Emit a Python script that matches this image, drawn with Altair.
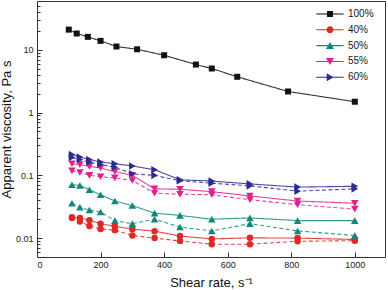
import altair as alt
import pandas as pd

# ---------------- data ----------------
conc_labels = ["100%", "40%", "50%", "55%", "60%"]
colors = ["#111111", "#e02828", "#12877f", "#e2228c", "#2d2b90"]

rate_100 = [100, 125, 160, 200, 250, 315, 400, 500, 550, 630, 790, 1000]
visc_100 = [21.0, 18.2, 16.1, 13.9, 11.3, 10.2, 8.2, 5.83, 5.04, 3.72, 2.17, 1.49]

rate = [110, 135, 165, 200, 245, 300, 370, 450, 550, 670, 820, 1000]
visc_40_a = [0.0215, 0.0210, 0.0193, 0.0170, 0.0154, 0.0139, 0.0129, 0.0108, 0.0097, 0.0101, 0.0100, 0.0095]
visc_40_b = [0.0210, 0.0184, 0.0156, 0.0140, 0.0134, 0.0110, 0.0100, 0.0090, 0.0080, 0.0080, 0.0089, 0.0091]
visc_50_a = [0.071, 0.069, 0.059, 0.049, 0.039, 0.033, 0.025, 0.023, 0.020, 0.021, 0.019, 0.019]
visc_50_b = [0.036, 0.031, 0.028, 0.026, 0.019, 0.017, 0.020, 0.015, 0.013, 0.017, 0.013, 0.011]
visc_55_a = [0.153, 0.148, 0.139, 0.131, 0.115, 0.100, 0.061, 0.060, 0.055, 0.047, 0.039, 0.036]
visc_55_b = [0.118, 0.111, 0.100, 0.095, 0.091, 0.083, 0.052, 0.050, 0.049, 0.041, 0.034, 0.029]
visc_60_a = [0.215, 0.196, 0.179, 0.163, 0.153, 0.141, 0.123, 0.085, 0.081, 0.073, 0.065, 0.067]
visc_60_b = [0.193, 0.179, 0.163, 0.149, 0.134, 0.106, 0.100, 0.082, 0.075, 0.068, 0.056, 0.061]

x_ticks = [0, 200, 400, 600, 800, 1000]
y_ticks = [0.005, 0.006, 0.007, 0.008, 0.009,
           0.01, 0.02, 0.03, 0.04, 0.05, 0.06, 0.07, 0.08, 0.09,
           0.1, 0.2, 0.3, 0.4, 0.5, 0.6, 0.7, 0.8, 0.9,
           1, 2, 3, 4, 5, 6, 7, 8, 9,
           10, 20, 30, 40, 50, 60]

series = [
    ("100%", "a", rate_100, visc_100),
    ("40%", "a", rate, visc_40_a), ("40%", "b", rate, visc_40_b),
    ("50%", "a", rate, visc_50_a), ("50%", "b", rate, visc_50_b),
    ("55%", "a", rate, visc_55_a), ("55%", "b", rate, visc_55_b),
    ("60%", "a", rate, visc_60_a), ("60%", "b", rate, visc_60_b),
]
rows = []
for c, rep, xs, vs in series:
    for xv, yv in zip(xs, vs):
        rows.append({"conc": c, "rep": rep, "sid": c + rep, "rate": xv, "visc": yv})
df = pd.DataFrame(rows)

# ---------------- styling ----------------
FONT = "Liberation Sans"
decades = "indexof([0.01,0.1,1,10], datum.value)"


def cscale():
    return alt.Scale(domain=conc_labels, range=colors)


x_enc = alt.X(
    "rate:Q",
    scale=alt.Scale(domain=[0, 1095], nice=False, zero=False),
    axis=alt.Axis(values=x_ticks, offset=-5, tickSize=5, domain=False, grid=False,
                  labelPadding=3, titlePadding=7, format="d"),
    title="Shear rate, s⁻¹",
)
y_enc = alt.Y(
    "visc:Q",
    scale=alt.Scale(type="log", domain=[0.005, 60], nice=False),
    axis=alt.Axis(values=y_ticks, offset=-5, tickSize=5, domain=False, grid=False,
                  labelPadding=4, titlePadding=2, format="~g",
                  labelExpr=decades + " >= 0 ? datum.label : ''",
                  tickDash={"condition": {"test": decades + " < 0", "value": [0, 2, 3, 20]},
                            "value": [5, 0]}),
    title="Apparent viscosity, Pa s",
)

lines = alt.Chart().mark_line(strokeWidth=1.1, opacity=0.85).encode(
    x=x_enc, y=y_enc,
    color=alt.Color("conc:N", scale=cscale(), legend=None),
    strokeDash=alt.StrokeDash("rep:N", scale=alt.Scale(domain=["a", "b"], range=[[1, 0], [4, 2.5]]),
                              legend=None),
    detail="sid:N",
)

marker_specs = [("100%", "square", 36), ("40%", "circle", 42), ("50%", "triangle-up", 58),
                ("55%", "triangle-down", 58), ("60%", "triangle-right", 58)]
point_layers = []
for c, shp, sz in marker_specs:
    point_layers.append(
        alt.Chart().transform_filter(alt.datum.conc == c).mark_point(
            shape=shp, size=sz, filled=True, opacity=1
        ).encode(x=x_enc, y=y_enc,
                 color=alt.Color("conc:N", scale=cscale(), legend=None))
    )

# legend symbols: a short line with the marker on it
line_part = "M-3.9,-0.15H3.9V0.15H-3.9Z"
legend_paths = [
    line_part + "M-0.85,-0.85H0.85V0.85H-0.85Z",
    line_part + "M-1,0A1,1,0,1,1,1,0A1,1,0,1,1,-1,0Z",
    line_part + "M0,-1.05L1.15,0.95H-1.15Z",
    line_part + "M0,1.05L-1.15,-0.95H1.15Z",
    line_part + "M1.05,0L-0.95,1.15V-1.15Z",
]
leg = alt.Legend(title=None, orient="none", legendX=288, legendY=8, padding=0,
                 labelFontSize=10, labelFont=FONT, labelColor="#1a1a1a",
                 symbolSize=49, labelOffset=13, rowPadding=5.8,
                 symbolOpacity=1, symbolStrokeWidth=0)
legend_layer = alt.Chart(pd.DataFrame({"conc": conc_labels})).mark_point(
    filled=True, opacity=0
).encode(
    color=alt.Color("conc:N", scale=cscale(), legend=leg),
    shape=alt.Shape("conc:N", scale=alt.Scale(domain=conc_labels, range=legend_paths), legend=leg),
)

chart = alt.layer(lines, *point_layers, legend_layer, data=df).resolve_scale(
    color="independent", shape="independent", strokeDash="independent"
).properties(
    width=348, height=256,
    padding={"left": 37, "top": 1, "right": 3, "bottom": 33},
    autosize=alt.AutoSizeParams(type="none"),
    background="white",
).configure_view(
    stroke="#333333", strokeWidth=1
).configure_axis(
    labelFont=FONT, titleFont=FONT, labelFontSize=9, titleFontSize=13,
    titleFontWeight="normal", labelColor="#1a1a1a", titleColor="#111111",
    tickColor="#333333", tickWidth=1,
)

chart.save("out.html", embed_options={"renderer": "svg", "actions": False})
